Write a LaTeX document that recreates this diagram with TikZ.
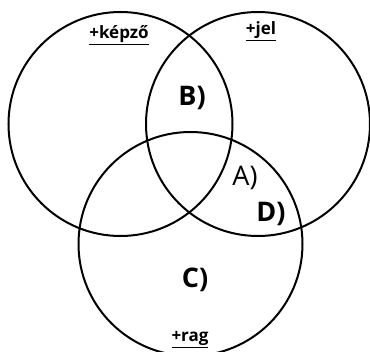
\documentclass[tikz,border=0pt]{standalone}
\usepackage{fontspec}
\setmainfont{Open Sans}
\begin{document}
\begin{tikzpicture}[x=1pt,y=-1pt,
  ring/.style={circle,draw=black,line width=2pt,minimum size=224pt,inner sep=0pt},
  big/.style={font=\fontsize{27}{30}\selectfont\bfseries,inner sep=0pt},
  bigreg/.style={font=\fontsize{27}{30}\selectfont,inner sep=0pt},
  small/.style={font=\fontsize{17}{19}\selectfont\bfseries,inner sep=0pt}]
\useasboundingbox (0,0) rectangle (370,352);
\node[ring] (c1) at (120.5,124) {};
\node[ring] (c2) at (258,124) {};
\node[ring] (c3) at (190.5,244) {};
\node[small,anchor=base] (t1) at (119,39) {\underline{+képző}};
\node[small,anchor=base] (t2) at (261,35) {\underline{+jel}};
\node[small,anchor=base] (t3) at (190,342) {\underline{+rag}};
\node[big,anchor=base] (b) at (192,106) {B)};
\node[bigreg,anchor=base] (a) at (245,186) {A)};
\node[big,anchor=base] (d) at (271,222) {D)};
\node[big,anchor=base] (c) at (195,288) {C)};
\end{tikzpicture}
\end{document}
